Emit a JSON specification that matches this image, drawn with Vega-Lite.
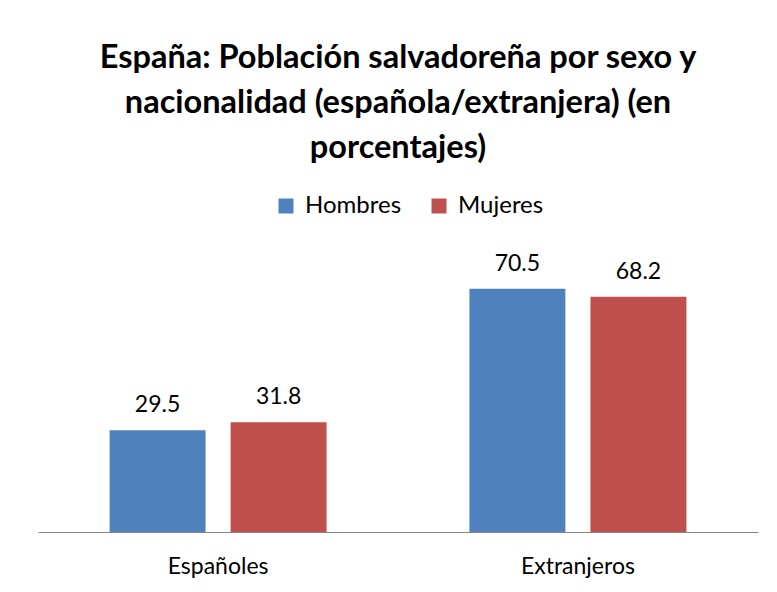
{
  "$schema": "https://vega.github.io/schema/vega-lite/v6.json",
  "width": 720,
  "height": 276,
  "autosize": {"type": "pad"},
  "padding": {"left": 38, "right": 19, "top": 41, "bottom": 10},
  "background": "white",
  "title": {
    "text": ["España: Población salvadoreña por sexo y", "nacionalidad (española/extranjera) (en", "porcentajes)"],
    "font": "Lato",
    "fontSize": 32.5,
    "fontWeight": "bold",
    "color": "#000000",
    "lineHeight": 45,
    "anchor": "middle",
    "frame": "group",
    "offset": 30
  },
  "data": {
    "values": [
      {"grupo": "Españoles", "sexo": "Hombres", "valor": 29.5},
      {"grupo": "Españoles", "sexo": "Mujeres", "valor": 31.8},
      {"grupo": "Extranjeros", "sexo": "Hombres", "valor": 70.5},
      {"grupo": "Extranjeros", "sexo": "Mujeres", "valor": 68.2}
    ]
  },
  "encoding": {
    "x": {
      "field": "grupo", "type": "nominal", "sort": null,
      "scale": {"paddingInner": 0.397, "paddingOuter": 0.199},
      "axis": {"title": null, "labelAngle": 0, "ticks": false, "domainColor": "#868686", "domainWidth": 1, "labelFont": "Lato", "labelFontSize": 23, "labelColor": "#000000", "labelPadding": 23}
    },
    "xOffset": {"field": "sexo", "type": "nominal", "scale": {"paddingInner": 0.207, "paddingOuter": 0}},
    "y": {"field": "valor", "type": "quantitative", "scale": {"domain": [0, 80], "nice": false}, "axis": null}
  },
  "layer": [
    {
      "mark": {"type": "bar"},
      "encoding": {
        "color": {
          "field": "sexo", "type": "nominal",
          "scale": {"domain": ["Hombres", "Mujeres"], "range": ["#4F81BD", "#C0504D"]},
          "legend": {"title": null, "orient": "none", "direction": "horizontal", "legendX": 236, "legendY": -62, "symbolType": "square", "symbolSize": 225, "symbolStrokeWidth": 0, "labelFont": "Lato", "labelFontSize": 24, "labelColor": "#000000", "columnPadding": 25, "symbolOffset": 0, "labelOffset": 7}
        }
      }
    },
    {
      "mark": {"type": "text", "baseline": "bottom", "dy": -13, "font": "Lato", "fontSize": 23, "color": "#000000"},
      "encoding": {"text": {"field": "valor", "type": "quantitative", "format": ".1f"}}
    }
  ],
  "config": {"view": {"stroke": null}}
}
